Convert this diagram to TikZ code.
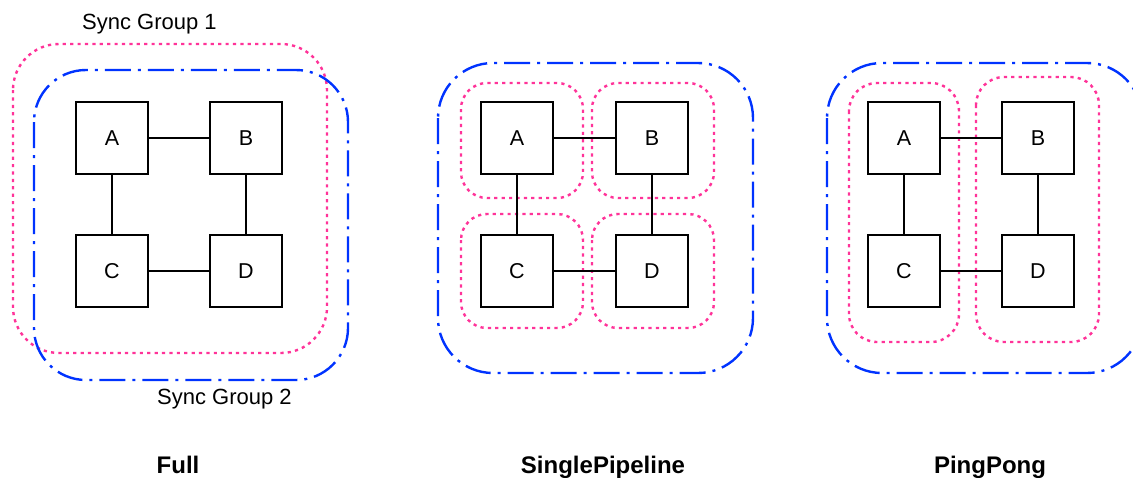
\documentclass[tikz,border=0pt]{standalone}
\usepackage{fontspec}
\setmainfont{Liberation Sans}
\begin{document}
\begin{tikzpicture}[x=1pt,y=-1pt,
  unit/.style={draw=black,line width=1.3pt,minimum size=72pt,inner sep=0pt,
    font=\fontsize{21.5}{25}\selectfont},
  link/.style={draw=black,line width=1.2pt},
  syncone/.style={draw={rgb,255:red,255;green,51;blue,153},line width=2.4pt,
    dash pattern=on 3.2pt off 4.2pt,line cap=butt},
  synctwo/.style={draw={rgb,255:red,0;green,51;blue,255},line width=2.4pt,
    dash pattern=on 26pt off 7pt on 3pt off 7pt},
  caption/.style={font=\fontsize{24}{28}\selectfont\bfseries,anchor=base,inner sep=0pt},
  grouplabel/.style={font=\fontsize{22}{26}\selectfont,anchor=west,inner sep=0pt}]
\clip (0,0) rectangle (1133,477);
\fill[white] (0,0) rectangle (1133,477);

% ---------- Full ----------
\draw[syncone,rounded corners=46pt] (13,44) rectangle (327,353);
\draw[synctwo,rounded corners=52pt] (34,70) rectangle (348,380);
\node[unit] (A1) at (112,138) {A};
\node[unit] (B1) at (246,138) {B};
\node[unit] (C1) at (112,271) {C};
\node[unit] (D1) at (246,271) {D};
\draw[link] (A1) -- (B1);
\draw[link] (C1) -- (D1);
\draw[link] (A1) -- (C1);
\draw[link] (B1) -- (D1);
\node[grouplabel] (g1) at (82,24) {Sync Group 1};
\node[grouplabel] (g2) at (157,399) {Sync Group 2};

% ---------- SinglePipeline ----------
\draw[synctwo,rounded corners=55pt] (438,63) rectangle (753,373);
\draw[syncone,rounded corners=26pt] (461,83) rectangle (583,198);
\draw[syncone,rounded corners=26pt] (592,83) rectangle (714,198);
\draw[syncone,rounded corners=26pt] (461,214) rectangle (583,328);
\draw[syncone,rounded corners=26pt] (592,214) rectangle (714,328);
\node[unit] (A2) at (517,138) {A};
\node[unit] (B2) at (652,138) {B};
\node[unit] (C2) at (517,271) {C};
\node[unit] (D2) at (652,271) {D};
\draw[link] (A2) -- (B2);
\draw[link] (C2) -- (D2);
\draw[link] (A2) -- (C2);
\draw[link] (B2) -- (D2);

% ---------- PingPong ----------
\draw[synctwo,rounded corners=55pt] (827,63) rectangle (1142,373);
\draw[syncone,rounded corners=28pt] (849,83) rectangle (959,342);
\draw[syncone,rounded corners=28pt] (976,77) rectangle (1099,342);
\node[unit] (A3) at (904,138) {A};
\node[unit] (B3) at (1038,138) {B};
\node[unit] (C3) at (904,271) {C};
\node[unit] (D3) at (1038,271) {D};
\draw[link] (A3) -- (B3);
\draw[link] (C3) -- (D3);
\draw[link] (A3) -- (C3);
\draw[link] (B3) -- (D3);

% ---------- captions ----------
\node[caption] (full) at (178,473) {Full};
\node[caption] (single) at (603,473) {SinglePipeline};
\node[caption] (ping) at (990,473) {PingPong};
\end{tikzpicture}
\end{document}
